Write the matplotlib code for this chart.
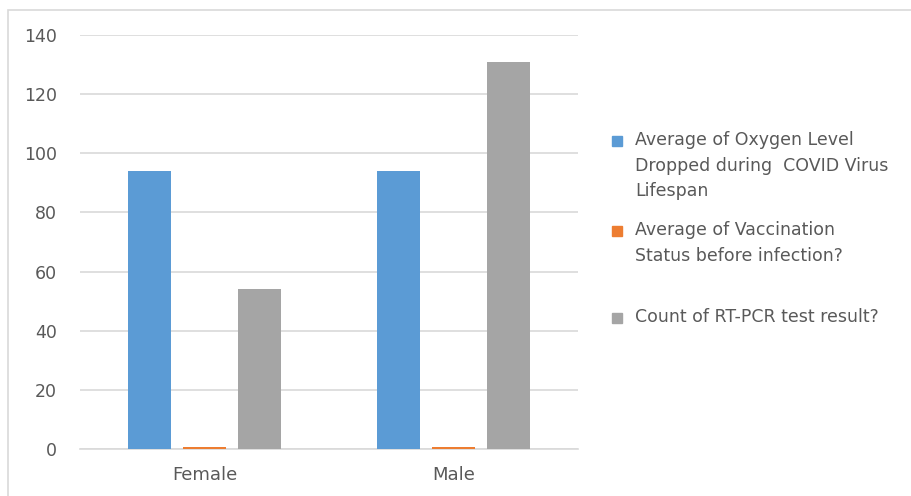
import numpy as np
import matplotlib.pyplot as plt
from matplotlib.patches import Rectangle

categories = ["Female", "Male"]
series_names = [
    "Average of Oxygen Level\nDropped during  COVID Virus\nLifespan",
    "Average of Vaccination\nStatus before infection?",
    "Count of RT-PCR test result?",
]
oxygen = [94, 94]
vaccination = [0.7, 0.7]
rtpcr_count = [54, 131]
yticks = [0, 20, 40, 60, 80, 100, 120, 140]

colors = ["#5b9bd5", "#ed7d31", "#a5a5a5"]
txt = "#595959"
grid = "#d9d9d9"

plt.rcParams['font.family'] = ['DejaVu Sans']

fig = plt.figure(figsize=(9.12, 4.96), dpi=100)
ax = fig.add_axes([80 / 912, 1 - 449 / 496, 498 / 912, (449 - 35) / 496])

x = np.arange(len(categories))
step = 0.221
width = 0.169
for i, vals in enumerate([oxygen, vaccination, rtpcr_count]):
    ax.bar(x + (i - 1) * step, vals, width, color=colors[i], zorder=3)

ax.set_xlim(-0.5, 1.5)
ax.set_ylim(0, 140)
ax.set_yticks(yticks)
ax.set_xticks(x)
ax.set_xticklabels(categories)
ax.yaxis.grid(True, color=grid, lw=1.2, zorder=0)
ax.tick_params(length=0, colors=txt)
ax.tick_params(axis='y', pad=16.5, labelsize=12.5)
ax.tick_params(axis='x', pad=12, labelsize=13)
for s in ['top', 'right', 'left']:
    ax.spines[s].set_visible(False)
ax.spines['bottom'].set_color(grid)
ax.spines['bottom'].set_linewidth(1.2)

# legend drawn by hand to keep Excel-like layout
legend_y = [141, 231, 318]
for name, c, ly in zip(series_names, colors, legend_y):
    fig.patches.append(Rectangle((612 / 912, 1 - (ly + 5) / 496), 10 / 912, 10 / 496,
                                 transform=fig.transFigure, color=c))
    fig.text(635 / 912, 1 - (ly - 10) / 496, name, color=txt, fontsize=12.5,
             va='top', ha='left', linespacing=1.55)

# outer chart border
fig.patches.append(Rectangle((8 / 912, -0.01), 1, 1 - 10 / 496 + 0.01,
                             transform=fig.transFigure, fill=False,
                             edgecolor=grid, lw=1.2))

fig.savefig("out.png", dpi=100)
